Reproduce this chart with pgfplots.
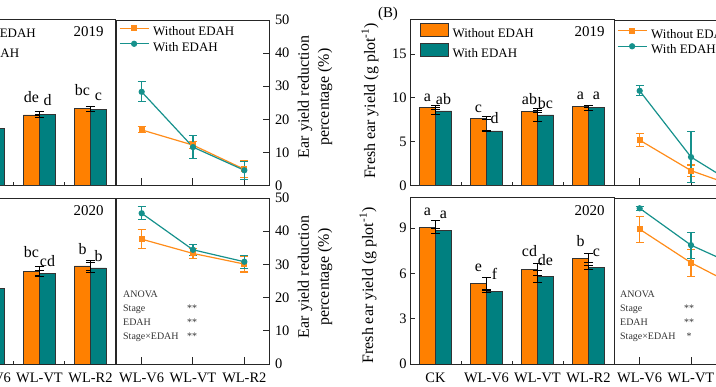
\documentclass[border=0pt]{standalone}
\usepackage{fontspec}
\setmainfont{Liberation Serif}
\usepackage{pgfplots}
\pgfplotsset{compat=1.18}

\definecolor{barO}{RGB}{255,128,0}
\definecolor{barT}{RGB}{0,128,128}
\definecolor{lnO}{RGB}{255,140,26}
\definecolor{lnT}{RGB}{22,145,140}

\tikzset{lab/.style={anchor=base, font=\fontsize{16}{16}\selectfont, inner sep=0pt}}

\pgfplotsset{
  base/.style={
    scale only axis,
    axis line style={line width=1bp, black!85},
    every tick/.style={line width=1bp, black!85},
    tick align=inside,
    tick label style={font=\fontsize{14.5}{16}\selectfont, black},
    xticklabel style={yshift=-5.5bp},
    /pgf/number format/assume math mode=true,
    legend cell align=left,
    legend style={draw=none, fill=none, inner sep=0pt, outer sep=0pt, row sep=2.5bp, column sep=4bp,
      font=\fontsize{13}{13}\selectfont, nodes={inner sep=0pt, text height=10bp, text depth=3bp}},
  },
  barax/.style={base, width=204bp, xmin=0.5, xmax=4.5, xtick={1,2,3,4},
    major x tick style={draw=none}, minor xtick={1.5,2.5,3.5}, minor tick length=3bp,
    major tick length=5bp, xtick pos=bottom, ytick pos=left, ymin=0},
  lineax/.style={base, width=154bp, xmin=0.5, xmax=3.5, xtick={1,2,3}, xtick pos=bottom,
    ytick pos=right, yticklabel pos=right, ymin=0, ymax=50, ytick={0,10,20,30,40,50},
    major tick length=7bp, yticklabel style={xshift=1.5bp},
    legend image code/.code={\draw[mark repeat=2, mark phase=2, ##1] plot coordinates {(0bp,4bp) (14.5bp,4bp) (29bp,4bp)};}},
  bO/.style={ybar, bar width=16bp, bar shift=-8bp, fill=barO, draw=black!80, line width=0.6bp,
    legend image code/.code={\draw[##1] (0bp,-2.5bp) rectangle (28bp,10.5bp);},
    /pgfplots/error bars/y dir=both, /pgfplots/error bars/y explicit,
    /pgfplots/error bars/error bar style={black, line width=1bp},
    /pgfplots/error bars/error mark options={rotate=90, black, line width=1bp, mark size=4.5bp}},
  bT/.style={ybar, bar width=16bp, bar shift=8bp, fill=barT, draw=black!80, line width=0.6bp,
    legend image code/.code={\draw[##1] (0bp,-2.5bp) rectangle (28bp,10.5bp);},
    /pgfplots/error bars/y dir=both, /pgfplots/error bars/y explicit,
    /pgfplots/error bars/error bar style={black, line width=1bp},
    /pgfplots/error bars/error mark options={rotate=90, black, line width=1bp, mark size=4.5bp}},
  lO/.style={color=lnO, line width=1.2bp, mark=square*, mark size=2.3bp,
    /pgfplots/error bars/y dir=both, /pgfplots/error bars/y explicit,
    /pgfplots/error bars/error bar style={lnO, line width=1.1bp},
    /pgfplots/error bars/error mark options={rotate=90, lnO, line width=1.1bp, mark size=4bp}},
  lT/.style={color=lnT, line width=1.2bp, mark=*, mark size=2.5bp,
    /pgfplots/error bars/y dir=both, /pgfplots/error bars/y explicit,
    /pgfplots/error bars/error bar style={lnT, line width=1.1bp},
    /pgfplots/error bars/error mark options={rotate=90, lnT, line width=1.1bp, mark size=4bp}},
}

\begin{document}
\begin{tikzpicture}[x=1bp,y=1bp]
\useasboundingbox (0bp,0bp) rectangle (716bp,387bp);
\clip (0bp,0bp) rectangle (716bp,387bp);

% ---------------- Panel A, 2019 bars ----------------
\begin{axis}[barax, at={(-88bp,201.5bp)}, anchor=south west, height=165.5bp, ymax=20,
  ytick={0,5,10,15,20}, xticklabels={},
  legend style={at={(axis description cs:0.049,0.982)}, anchor=north west}]
\addplot[bO] coordinates {(1,9.67) +- (0,0.2) (2,8.05) +- (0,0.2) (3,8.54) +- (0,0.05) (4,9.27) +- (0,0.3)};
\addplot[bT] coordinates {(1,9.67) +- (0,0.2) (2,6.92) +- (0,0.3) (3,8.58) +- (0,0.4) (4,9.22) +- (0,0.3)};
\legend{Without EDAH, With EDAH}
\node[lab] at (axis cs:1.843,8.8) {e};
\node[lab] at (axis cs:2.157,8.16) {f};
\node[lab] at (axis cs:2.843,10.0) {de};
\node[lab] at (axis cs:3.157,9.61) {d};
\node[lab] at (axis cs:3.843,10.82) {bc};
\node[lab] at (axis cs:4.157,10.27) {c};
\end{axis}

% ---------------- Panel A, 2019 lines ----------------
\begin{axis}[lineax, at={(116bp,201.5bp)}, anchor=south west, height=165.5bp, xticklabels={},
  legend style={at={(axis description cs:0.0195,0.965)}, anchor=north west}]
\addplot[lO] coordinates {(1,16.8) +- (0,0.9) (2,12.2) +- (0,1.0) (3,4.9) +- (0,2.5)};
\addplot[lT] coordinates {(1,28.3) +- (0,3.0) (2,11.6) +- (0,3.4) (3,4.6) +- (0,2.7)};
\legend{Without EDAH, With EDAH}
\end{axis}

% ---------------- Panel A, 2020 bars ----------------
\begin{axis}[barax, at={(-88bp,23bp)}, anchor=south west, height=166bp, ymax=20,
  ytick={0,5,10,15,20}, xticklabels={CK,WL-V6,WL-VT,WL-R2}]
\addplot[bO] coordinates {(1,16.75) +- (0,0.5) (2,10.45) +- (0,0.5) (3,11.2) +- (0,0.5) (4,11.81) +- (0,0.6)};
\addplot[bT] coordinates {(1,16.75) +- (0,0.3) (2,9.12) +- (0,0.2) (3,10.93) +- (0,0.35) (4,11.57) +- (0,0.6)};
\node[lab] at (axis cs:1.843,11.6) {d};
\node[lab] at (axis cs:2.157,9.9) {e};
\node[lab] at (axis cs:2.843,12.8) {bc};
\node[lab] at (axis cs:3.157,11.8) {cd};
\node[lab] at (axis cs:3.843,13.2) {b};
\node[lab] at (axis cs:4.157,12.4) {b};
\end{axis}

% ---------------- Panel A, 2020 lines ----------------
\begin{axis}[lineax, at={(116bp,23bp)}, anchor=south west, height=166bp, xticklabels={WL-V6,WL-VT,WL-R2}]
\addplot[lO] coordinates {(1,37.6) +- (0,2.8) (2,33.3) +- (0,1.5) (3,30.1) +- (0,2.4)};
\addplot[lT] coordinates {(1,45.4) +- (0,2.0) (2,34.4) +- (0,1.7) (3,30.8) +- (0,1.9)};
\end{axis}

% ---------------- Panel B, 2019 bars ----------------
\begin{axis}[barax, at={(410bp,201.5bp)}, anchor=south west, height=165.5bp, ymax=18.9,
  ytick={0,5,10,15}, xticklabels={},
  legend style={at={(axis description cs:0.049,0.982)}, anchor=north west}]
\addplot[bO] coordinates {(1,8.89) +- (0,0.2) (2,7.68) +- (0,0.15) (3,8.43) +- (0,0.15) (4,9.0) +- (0,0.1)};
\addplot[bT] coordinates {(1,8.51) +- (0,0.4) (2,6.23) +- (0,0.1) (3,8.06) +- (0,0.74) (4,8.89) +- (0,0.3)};
\legend{Without EDAH, With EDAH}
\node[lab] at (axis cs:0.843,9.58) {a};
\node[lab] at (axis cs:1.157,9.28) {ab};
\node[lab] at (axis cs:1.843,8.37) {c};
\node[lab] at (axis cs:2.157,7.03) {d};
\node[lab] at (axis cs:2.843,9.2) {ab};
\node[lab] at (axis cs:3.157,8.82) {bc};
\node[lab] at (axis cs:3.843,9.77) {a};
\node[lab] at (axis cs:4.157,9.77) {a};
\end{axis}

% ---------------- Panel B, 2019 lines ----------------
\begin{axis}[lineax, at={(614bp,201.5bp)}, anchor=south west, height=165.5bp, xticklabels={},
  legend style={at={(axis description cs:0.0195,0.95)}, anchor=north west}]
\addplot[lO] coordinates {(1,13.7) +- (0,2.0) (2,4.5) +- (0,1.7) (3,-1.0) +- (0,1.5)};
\addplot[lT] coordinates {(1,28.6) +- (0,1.5) (2,8.6) +- (0,7.8) (3,-1.0) +- (0,1.5)};
\legend{Without EDAH, With EDAH}
\end{axis}

% ---------------- Panel B, 2020 bars ----------------
\begin{axis}[barax, at={(410bp,23bp)}, anchor=south west, height=166bp, ymax=11,
  ytick={0,3,6,9}, xticklabels={CK,WL-V6,WL-VT,WL-R2}]
\addplot[bO] coordinates {(1,9.06) +- (0,0.44) (2,5.35) +- (0,0.4) (3,6.28) +- (0,0.39) (4,7.0) +- (0,0.29)};
\addplot[bT] coordinates {(1,8.83) +- (0,0.15) (2,4.79) +- (0,0.05) (3,5.79) +- (0,0.4) (4,6.41) +- (0,0.15)};
\node[lab] at (axis cs:0.843,9.87) {a};
\node[lab] at (axis cs:1.157,9.66) {a};
\node[lab] at (axis cs:1.843,6.12) {e};
\node[lab] at (axis cs:2.157,5.57) {f};
\node[lab] at (axis cs:2.843,7.11) {cd};
\node[lab] at (axis cs:3.157,6.56) {de};
\node[lab] at (axis cs:3.843,7.77) {b};
\node[lab] at (axis cs:4.157,7.11) {c};
\end{axis}

% ---------------- Panel B, 2020 lines ----------------
\begin{axis}[lineax, at={(614bp,23bp)}, anchor=south west, height=166bp, xticklabels={WL-V6,WL-VT,WL-R2}]
\addplot[lO] coordinates {(1,40.6) +- (0,3.9) (2,30.5) +- (0,4.1) (3,22.5) +- (0,3.0)};
\addplot[lT] coordinates {(1,46.9) +- (0,0.6) (2,35.8) +- (0,3.9) (3,28.8) +- (0,3.0)};
\end{axis}

% ---------------- annotations ----------------
\node[anchor=base east, font=\fontsize{15}{15}\selectfont] at (107bp,350bp) {2019};
\node[anchor=base east, font=\fontsize{15}{15}\selectfont] at (107bp,171.5bp) {2020};
\node[anchor=base east, font=\fontsize{15}{15}\selectfont] at (608bp,350bp) {2019};
\node[anchor=base east, font=\fontsize{15}{15}\selectfont] at (608bp,171.5bp) {2020};
\node[font=\fontsize{15}{15}\selectfont] at (388bp,373.5bp) {(B)};

\node[rotate=90, align=center, font=\fontsize{16}{20}\selectfont] at (315bp,290bp) {Ear yield reduction\\percentage (\%)};
\node[rotate=90, align=center, font=\fontsize{16}{20}\selectfont] at (315bp,110bp) {Ear yield reduction\\percentage (\%)};
\node[rotate=90, font=\fontsize{16}{16}\selectfont] at (370bp,286bp) {Fresh ear yield (g plot\textsuperscript{-1})};
\node[rotate=90, font=\fontsize{16}{16}\selectfont] at (368bp,101.5bp) {Fresh ear yield (g plot\textsuperscript{-1})};

\begin{scope}[every node/.style={font=\fontsize{10}{10}\selectfont, text=black!80, inner sep=0pt}]
\node[anchor=base west] at (123bp,89bp) {ANOVA};
\node[anchor=base west] at (123bp,75bp) {Stage};
\node[anchor=base west] at (123bp,61bp) {EDAH};
\node[anchor=base west] at (123bp,47bp) {Stage×EDAH};
\node[anchor=base] at (192bp,75bp) {**};
\node[anchor=base] at (192bp,61bp) {**};
\node[anchor=base] at (192bp,47bp) {**};
\node[anchor=base west] at (620bp,89bp) {ANOVA};
\node[anchor=base west] at (620bp,75bp) {Stage};
\node[anchor=base west] at (620bp,61bp) {EDAH};
\node[anchor=base west] at (620bp,47bp) {Stage×EDAH};
\node[anchor=base] at (689bp,75bp) {**};
\node[anchor=base] at (689bp,61bp) {**};
\node[anchor=base] at (689bp,47bp) {*};
\end{scope}
\end{tikzpicture}
\end{document}
